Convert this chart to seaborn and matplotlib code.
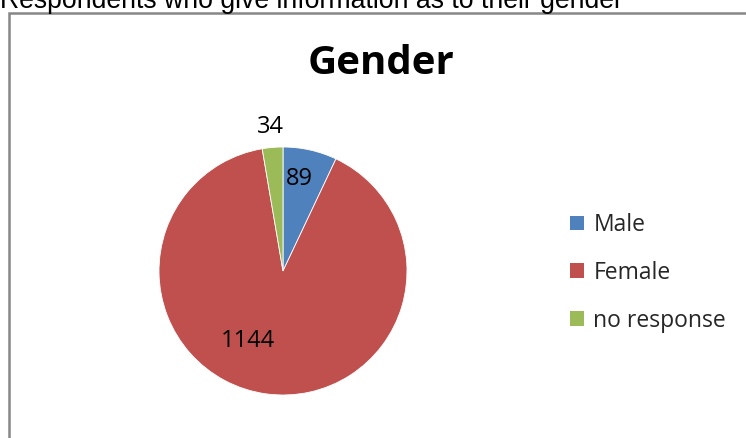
import numpy as np
import matplotlib
matplotlib.use("Agg")
import matplotlib.pyplot as plt
from matplotlib.patches import Rectangle, Patch
import seaborn as sns

# Data
categories = ["Male", "Female", "no response"]
counts = [89, 1144, 34]
colors = ["#4F81BD", "#C0504D", "#9BBB59"]

sns.set_theme(style="white")
plt.rcParams["font.family"] = ["Open Sans", "DejaVu Sans"]

W, H = 746, 438
fig = plt.figure(figsize=(W / 100, H / 100), dpi=100)
fig.patch.set_facecolor("white")


def fx(px):
    return px / W


def fy(py):
    return 1 - py / H


# Heading above the chart frame (partly clipped at the top edge)
fig.text(fx(0), fy(8), "Respondents who give information as to their gender",
         family=["Liberation Sans", "DejaVu Sans"], fontsize=19.2,
         ha="left", va="baseline", color="black")

# Chart frame
fig.patches.append(Rectangle((fx(8.7), fy(460)), fx(800), fy(13) - fy(460),
                             transform=fig.transFigure, fill=False,
                             edgecolor="#878787", linewidth=1.8))

# Pie axes: centre (283, 271), radius 124 px
cx, cy, r = 283, 271, 124
ax = fig.add_axes([fx(cx - r), fy(cy + r), 2 * r / W, 2 * r / H])
wedges, _ = ax.pie(counts, colors=colors, startangle=90, counterclock=False,
                   radius=1.0, wedgeprops=dict(edgecolor="white", linewidth=0.6))
ax.set_xlim(-1, 1)
ax.set_ylim(-1, 1)
ax.set_aspect("equal")
ax.axis("off")

# Value labels, positioned relative to each wedge's mid-angle
label_shift = [2.8, -19.0, 0.3]   # degrees
label_radius = [0.75, 0.63, 1.17]
for w, v, da, rr in zip(wedges, counts, label_shift, label_radius):
    ang = np.deg2rad((w.theta1 + w.theta2) / 2 + da)
    ax.text(rr * np.cos(ang), rr * np.sin(ang), str(v), ha="center",
            va="center", fontsize=17, color="black", clip_on=False)

# Title
fig.text(fx(381), fy(64), "Gender", ha="center", va="center",
         fontsize=29, fontweight="bold", color="black")

# Legend
handles = [Patch(facecolor=c, edgecolor="none") for c in colors]
fig.legend(handles, categories, loc="upper left",
           bbox_to_anchor=(fx(570), fy(213)), frameon=False, fontsize=16.5,
           handlelength=0.62, handleheight=0.62, handletextpad=0.4,
           labelspacing=1.04, borderaxespad=0, borderpad=0)

fig.savefig("out.png", dpi=100)
